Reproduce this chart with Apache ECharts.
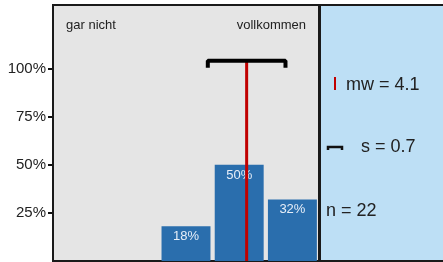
<!DOCTYPE html>
<html>
<head>
<meta charset="utf-8">
<script src="https://cdn.jsdelivr.net/npm/echarts@6/dist/echarts.min.js"></script>
<style>
  html, body { margin: 0; padding: 0; background: #fff; }
  #chart { width: 443px; height: 262px; }
</style>
</head>
<body>
<div id="chart"></div>
<script>
// Antwortstufen 1 (gar nicht) .. 5 (vollkommen)
var categories = ['1', '2', '3', '4', '5'];
var shares = [0, 0, 18, 50, 32];      // Anteil in %
var meanValue = 4.14;                  // mw
var sdValue = 0.73;                    // s
var nCount = 22;
var yTicks = [25, 50, 75, 100];
var scaleLabels = ['gar nicht', 'vollkommen'];

var font = '"Liberation Sans", Arial, sans-serif';
var chartView = echarts.init(document.getElementById('chart'), null, { renderer: 'canvas' });

var option = {
    animation: false,
    textStyle: { fontFamily: font },
    grid: {
        left: 53, right: 124, top: 5, bottom: 1,
        show: true,
        backgroundColor: '#e5e5e5',
        borderColor: '#1a1a1a',
        borderWidth: 2,
        z: 1
    },
    xAxis: [
        {
            type: 'category',
            data: categories,
            axisLine: { show: false },
            axisTick: { show: false },
            axisLabel: { show: false }
        },
        {
            type: 'value',
            min: 0.5, max: 5.5,
            show: false
        }
    ],
    yAxis: [
        {
            type: 'value',
            min: 0, max: 133,
            axisLine: { show: true, lineStyle: { color: '#111', width: 2 } },
            axisTick: { show: true, length: 5, customValues: yTicks, lineStyle: { color: '#111', width: 2 } },
            axisLabel: {
                customValues: yTicks,
                formatter: '{value}%',
                color: '#222', fontSize: 15, margin: 7, fontFamily: font
            },
            splitLine: { show: false }
        },
        {
            // zweite Achse nur für die nach innen ragenden Ticks
            type: 'value',
            position: 'left',
            min: 0, max: 133,
            axisLine: { show: false },
            axisTick: { show: true, inside: true, length: 5, customValues: yTicks, lineStyle: { color: '#111', width: 2 } },
            axisLabel: { show: false },
            splitLine: { show: false }
        }
    ],
    series: [
        {
            type: 'bar',
            data: shares,
            barCategoryGap: '8%',
            itemStyle: { color: '#2a6ead' },
            label: {
                show: true,
                position: 'insideTop',
                distance: 4,
                color: '#e6eef8',
                fontSize: 13,
                fontFamily: font,
                formatter: function (p) { return p.value > 0 ? p.value + '%' : ''; }
            },
            z: 2
        },
        {
            // Mittelwert
            type: 'line',
            xAxisIndex: 1,
            data: [[meanValue, 0], [meanValue, 104]],
            symbol: 'none',
            lineStyle: { color: '#c00000', width: 3 },
            z: 3
        },
        {
            // Standardabweichung
            type: 'line',
            xAxisIndex: 1,
            data: [[meanValue - sdValue, 101.5], [meanValue - sdValue, 104], [meanValue + sdValue, 104], [meanValue + sdValue, 101.5]],
            symbol: 'none',
            lineStyle: { color: '#000', width: 4, cap: 'square' },
            z: 4
        }
    ],
    graphic: [
        {
            type: 'rect', z: 0,
            shape: { x: 320, y: 5, width: 126, height: 256 },
            style: { fill: '#bddff5', stroke: '#1a1a1a', lineWidth: 2 }
        },
        {
            type: 'text', left: 66, top: 19, z: 10,
            style: { text: scaleLabels[0], fill: '#222', font: '13px ' + font }
        },
        {
            type: 'text', right: 137, top: 19, z: 10,
            style: { text: scaleLabels[1], fill: '#222', font: '13px ' + font }
        },
        {
            type: 'line', z: 10,
            shape: { x1: 335, y1: 77, x2: 335, y2: 90 },
            style: { stroke: '#c00000', lineWidth: 2 }
        },
        {
            type: 'text', left: 346, top: 76, z: 10,
            style: { text: 'mw = ' + meanValue.toFixed(1), fill: '#222', font: '18px ' + font }
        },
        {
            type: 'polyline', z: 10,
            shape: { points: [[328, 150], [328, 147], [342, 147], [342, 150]] },
            style: { stroke: '#111', lineWidth: 2.5, fill: null }
        },
        {
            type: 'text', left: 361, top: 138, z: 10,
            style: { text: 's = ' + sdValue.toFixed(1), fill: '#222', font: '18px ' + font }
        },
        {
            type: 'text', left: 326, top: 202, z: 10,
            style: { text: 'n = ' + nCount, fill: '#222', font: '18px ' + font }
        }
    ]
};

chartView.setOption(option);
</script>
</body>
</html>
